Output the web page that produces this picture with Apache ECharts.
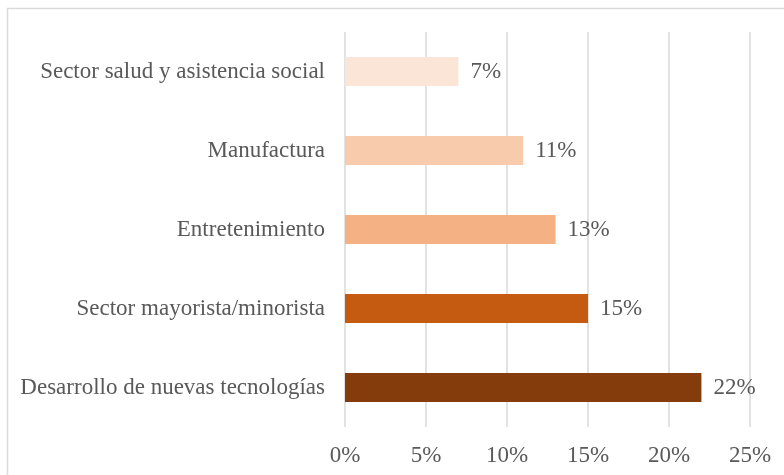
<!DOCTYPE html>
<html>
<head>
<meta charset="utf-8">
<style>
  html, body { margin: 0; padding: 0; background: #ffffff; }
  #chart { width: 784px; height: 475px; }
</style>
<script src="https://cdn.jsdelivr.net/npm/echarts@6/dist/echarts.min.js"></script>
</head>
<body>
<div id="chart"></div>
<script>
// Sectors, listed from top to bottom
const categories = [
  'Sector salud y asistencia social',
  'Manufactura',
  'Entretenimiento',
  'Sector mayorista/minorista',
  'Desarrollo de nuevas tecnologías'
];
// Share of each sector, in percent
const values = [7, 11, 13, 15, 22];
// Bar fill per sector
const barColors = ['#FBE5D6', '#F8CBAD', '#F4B183', '#C55A11', '#843C0C'];
// X axis ticks, in percent
const tickMax = 25;
const tickStep = 5;

const font = '"Liberation Serif", "Times New Roman", serif';
const textColor = '#595959';
const textSize = 23;

const chart = echarts.init(document.getElementById('chart'));
chart.setOption({
  animation: false,
  backgroundColor: '#ffffff',
  graphic: [{
    type: 'rect',
    shape: { x: 7.5, y: 8.5, width: 820, height: 520 },
    style: { fill: 'none', stroke: '#d9d9d9', lineWidth: 1.5 },
    silent: true
  }],
  grid: { left: 345, right: 34, top: 32, bottom: 48 },
  xAxis: {
    type: 'value',
    min: 0,
    max: tickMax,
    interval: tickStep,
    axisLine: { show: false },
    axisTick: { show: false },
    axisLabel: {
      formatter: v => v + '%',
      color: textColor,
      fontFamily: font,
      fontSize: textSize,
      margin: 17
    },
    splitLine: { show: true, lineStyle: { color: '#d9d9d9', width: 1.5 } }
  },
  yAxis: {
    type: 'category',
    inverse: true,
    data: categories,
    axisLine: { show: false },
    axisTick: { show: false },
    axisLabel: {
      color: textColor,
      fontFamily: font,
      fontSize: textSize,
      margin: 20,
      padding: [4, 0, 0, 0]
    }
  },
  series: [{
    type: 'bar',
    data: values.map((v, i) => ({ value: v, itemStyle: { color: barColors[i] } })),
    barWidth: 29,
    label: {
      show: true,
      position: 'right',
      distance: 12,
      padding: [4, 0, 0, 0],
      formatter: p => p.value + '%',
      color: textColor,
      fontFamily: font,
      fontSize: textSize
    }
  }]
});
</script>
</body>
</html>
